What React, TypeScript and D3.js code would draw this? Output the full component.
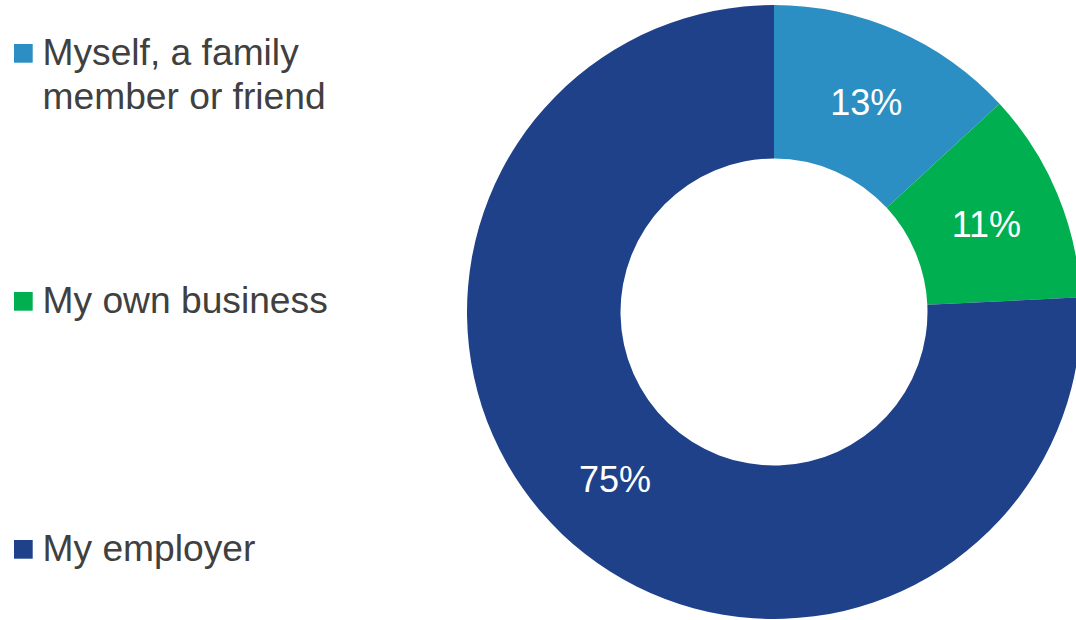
import React from "react";
import * as d3 from "d3";

const categories: string[][] = [
  ["Myself, a family", "member or friend"],
  ["My own business"],
  ["My employer"],
];
const values: number[] = [13, 11, 75];
const labels: string[] = ["13%", "11%", "75%"];
const colors: string[] = ["#2B8FC4", "#00B050", "#1F418A"];
const legendBaselines: number[] = [65, 313, 561];

const W = 1076;
const H = 620;
const CX = 774;
const CY = 312;
const R_OUT = 307;
const R_IN = 153.5;
const FONT = "'Liberation Sans', Arial, Helvetica, sans-serif";

export default function App() {
  const pie = d3
    .pie<number>()
    .sort(null)
    .value((d) => d)
    .startAngle(0)
    .endAngle(2 * Math.PI);
  const arcs = pie(values);
  const arc = d3.arc<d3.PieArcDatum<number>>().innerRadius(R_IN).outerRadius(R_OUT);

  return (
    <svg
      width={W}
      height={H}
      style={{ position: "absolute", left: 0, top: 0, display: "block", background: "#fff" }}
    >
      <g transform={`translate(${CX},${CY})`}>
        {arcs.map((a, i) => (
          <path key={i} d={arc(a) || ""} fill={colors[i]} />
        ))}
        {arcs.map((a, i) => {
          const [x, y] = arc.centroid(a);
          return (
            <text
              key={"l" + i}
              x={x}
              y={y}
              dy="0.38em"
              textAnchor="middle"
              fill="#fff"
              fontFamily={FONT}
              fontSize={36}
            >
              {labels[i]}
            </text>
          );
        })}
      </g>
      {categories.map((lines, i) => {
        const base = legendBaselines[i];
        return (
          <g key={"lg" + i}>
            <rect x={14} y={base - 21} width={18.7} height={18.7} fill={colors[i]} />
            <text x={42.5} y={base} fill="#404040" fontFamily={FONT} fontSize={37.2}>
              {lines.map((t, j) => (
                <tspan key={j} x={42.5} y={base + j * 44}>
                  {t}
                </tspan>
              ))}
            </text>
          </g>
        );
      })}
    </svg>
  );
}
